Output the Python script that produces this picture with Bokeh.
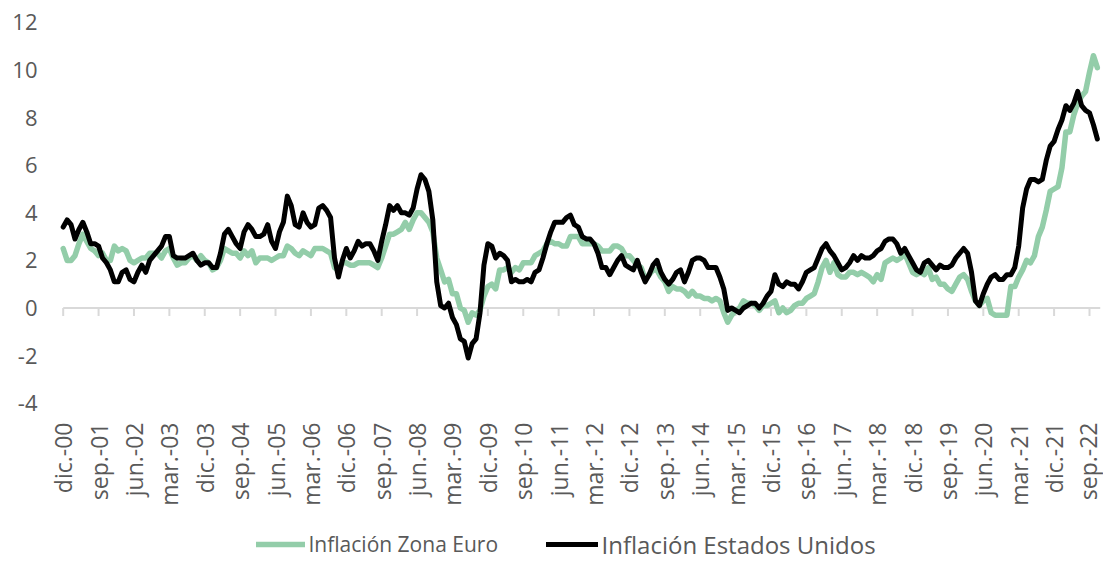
import math
from bokeh.plotting import figure
from bokeh.layouts import column
from bokeh.models import Range1d, FixedTicker, Legend, LegendItem, PrintfTickFormatter
from bokeh.embed import file_html
from bokeh.resources import INLINE

# Monthly year-on-year inflation, Dec 2000 .. Nov 2022 (%)
us_inflation = [
    3.4,
    3.7, 3.5, 2.9, 3.3, 3.6, 3.2, 2.7, 2.7, 2.6, 2.1, 1.9, 1.6,
    1.1, 1.1, 1.5, 1.6, 1.2, 1.1, 1.5, 1.8, 1.5, 2.0, 2.2, 2.4,
    2.6, 3.0, 3.0, 2.2, 2.1, 2.1, 2.1, 2.2, 2.3, 2.0, 1.8, 1.9,
    1.9, 1.7, 1.7, 2.3, 3.1, 3.3, 3.0, 2.7, 2.5, 3.2, 3.5, 3.3,
    3.0, 3.0, 3.1, 3.5, 2.8, 2.5, 3.2, 3.6, 4.7, 4.3, 3.5, 3.4,
    4.0, 3.6, 3.4, 3.5, 4.2, 4.3, 4.1, 3.8, 2.1, 1.3, 2.0, 2.5,
    2.1, 2.4, 2.8, 2.6, 2.7, 2.7, 2.4, 2.0, 2.8, 3.5, 4.3, 4.1,
    4.3, 4.0, 4.0, 3.9, 4.2, 5.0, 5.6, 5.4, 4.9, 3.7, 1.1, 0.1,
    0.0, 0.2, -0.4, -0.7, -1.3, -1.4, -2.1, -1.5, -1.3, -0.2, 1.8, 2.7,
    2.6, 2.1, 2.3, 2.2, 2.0, 1.1, 1.2, 1.1, 1.1, 1.2, 1.1, 1.5,
    1.6, 2.1, 2.7, 3.2, 3.6, 3.6, 3.6, 3.8, 3.9, 3.5, 3.4, 3.0,
    2.9, 2.9, 2.7, 2.3, 1.7, 1.7, 1.4, 1.7, 2.0, 2.2, 1.8, 1.7,
    1.6, 2.0, 1.5, 1.1, 1.4, 1.8, 2.0, 1.5, 1.2, 1.0, 1.2, 1.5,
    1.6, 1.1, 1.5, 2.0, 2.1, 2.1, 2.0, 1.7, 1.7, 1.7, 1.3, 0.8,
    -0.1, 0.0, -0.1, -0.2, 0.0, 0.1, 0.2, 0.2, 0.0, 0.2, 0.5, 0.7,
    1.4, 1.0, 0.9, 1.1, 1.0, 1.0, 0.8, 1.1, 1.5, 1.6, 1.7, 2.1,
    2.5, 2.7, 2.4, 2.2, 1.9, 1.6, 1.7, 1.9, 2.2, 2.0, 2.2, 2.1,
    2.1, 2.2, 2.4, 2.5, 2.8, 2.9, 2.9, 2.7, 2.3, 2.5, 2.2, 1.9,
    1.6, 1.5, 1.9, 2.0, 1.8, 1.6, 1.8, 1.7, 1.7, 1.8, 2.1, 2.3,
    2.5, 2.3, 1.5, 0.3, 0.1, 0.6, 1.0, 1.3, 1.4, 1.2, 1.2, 1.4,
    1.4, 1.7, 2.6, 4.2, 5.0, 5.4, 5.4, 5.3, 5.4, 6.2, 6.8, 7.0,
    7.5, 7.9, 8.5, 8.3, 8.6, 9.1, 8.5, 8.3, 8.2, 7.7, 7.1,
]

eu_inflation = [
    2.5,
    2.0, 2.0, 2.2, 2.7, 3.1, 2.8, 2.5, 2.4, 2.2, 2.3, 2.0, 2.0,
    2.6, 2.4, 2.5, 2.4, 2.0, 1.9, 2.0, 2.1, 2.1, 2.3, 2.3, 2.3,
    2.1, 2.4, 2.5, 2.1, 1.8, 1.9, 1.9, 2.1, 2.2, 2.0, 2.2, 2.0,
    1.9, 1.6, 1.7, 2.0, 2.5, 2.4, 2.3, 2.3, 2.1, 2.4, 2.2, 2.4,
    1.9, 2.1, 2.1, 2.1, 2.0, 2.1, 2.2, 2.2, 2.6, 2.5, 2.3, 2.2,
    2.4, 2.3, 2.2, 2.5, 2.5, 2.5, 2.4, 2.3, 1.7, 1.6, 1.9, 1.9,
    1.8, 1.8, 1.9, 1.9, 1.9, 1.9, 1.8, 1.7, 2.1, 2.6, 3.1, 3.1,
    3.2, 3.3, 3.6, 3.3, 3.7, 4.0, 4.0, 3.8, 3.6, 3.2, 2.1, 1.6,
    1.1, 1.2, 0.6, 0.6, 0.0, -0.1, -0.6, -0.2, -0.3, -0.1, 0.5, 0.9,
    1.0, 0.8, 1.6, 1.6, 1.7, 1.5, 1.7, 1.6, 1.9, 1.9, 1.9, 2.2,
    2.3, 2.4, 2.7, 2.8, 2.7, 2.7, 2.6, 2.6, 3.0, 3.0, 3.0, 2.7,
    2.7, 2.7, 2.7, 2.6, 2.4, 2.4, 2.4, 2.6, 2.6, 2.5, 2.2, 2.2,
    2.0, 1.8, 1.7, 1.2, 1.4, 1.6, 1.6, 1.3, 1.1, 0.7, 0.9, 0.8,
    0.8, 0.7, 0.5, 0.7, 0.5, 0.5, 0.4, 0.4, 0.3, 0.4, 0.3, -0.2,
    -0.6, -0.3, -0.1, 0.0, 0.3, 0.2, 0.2, 0.1, -0.1, 0.1, 0.1, 0.2,
    0.3, -0.2, 0.0, -0.2, -0.1, 0.1, 0.2, 0.2, 0.4, 0.5, 0.6, 1.1,
    1.7, 2.0, 1.5, 1.9, 1.4, 1.3, 1.3, 1.5, 1.5, 1.4, 1.5, 1.4,
    1.3, 1.1, 1.4, 1.2, 1.9, 2.0, 2.1, 2.0, 2.1, 2.3, 1.9, 1.5,
    1.4, 1.5, 1.4, 1.7, 1.2, 1.3, 1.0, 1.0, 0.8, 0.7, 1.0, 1.3,
    1.4, 1.2, 0.7, 0.3, 0.1, 0.3, 0.4, -0.2, -0.3, -0.3, -0.3, -0.3,
    0.9, 0.9, 1.3, 1.6, 2.0, 1.9, 2.2, 3.0, 3.4, 4.1, 4.9, 5.0,
    5.1, 5.9, 7.4, 7.4, 8.1, 8.6, 8.9, 9.1, 9.9, 10.6, 10.1,
]

tick_labels = [
    "dic.-00", "sep.-01", "jun.-02", "mar.-03", "dic.-03", "sep.-04",
    "jun.-05", "mar.-06", "dic.-06", "sep.-07", "jun.-08", "mar.-09",
    "dic.-09", "sep.-10", "jun.-11", "mar.-12", "dic.-12", "sep.-13",
    "jun.-14", "mar.-15", "dic.-15", "sep.-16", "jun.-17", "mar.-18",
    "dic.-18", "sep.-19", "jun.-20", "mar.-21", "dic.-21", "sep.-22",
]
tick_step = 9  # months between labels
y_ticks = [-4, -2, 0, 2, 4, 6, 8, 10, 12]

label_eu = "Inflación Zona Euro"
label_us = "Inflación Estados Unidos"

GREEN = "#93CDA9"
GREY_TEXT = "#595959"
AXIS_GREY = "#D9D9D9"
FONT = "Open Sans"
EU_W = 5.5
US_W = 5

n = len(us_inflation)
months = list(range(n))
tick_pos = [i * tick_step for i in range(len(tick_labels))]

MAIN_H = 513
LEG_H = 561 - MAIN_H

p = figure(
    width=1103, height=MAIN_H,
    output_backend="svg", toolbar_location=None,
    x_range=Range1d(-4.5, 263.8), y_range=Range1d(-4.307, 12.5),
    min_border_left=45, min_border_right=3, min_border_top=10,
    min_border_bottom=MAIN_H - 410,
)
p.outline_line_color = None
p.grid.visible = False
p.background_fill_color = "white"
p.border_fill_color = "white"

# y axis
yax = p.yaxis[0]
yax.ticker = FixedTicker(ticks=y_ticks)
yax.formatter = PrintfTickFormatter(format="%d")
yax.axis_line_color = None
yax.major_tick_line_color = None
yax.minor_tick_line_color = None
yax.major_tick_out = 0
yax.major_tick_in = 0
yax.major_label_standoff = 8
yax.major_label_text_font = FONT
yax.major_label_text_font_size = "22px"
yax.major_label_text_color = GREY_TEXT

# x axis (labels only, at bottom)
xax = p.xaxis[0]
xax.ticker = FixedTicker(ticks=tick_pos)
xax.major_label_overrides = {tp: lab for tp, lab in zip(tick_pos, tick_labels)}
xax.major_label_orientation = math.pi / 2
xax.axis_line_color = None
xax.major_tick_line_color = None
xax.minor_tick_line_color = None
xax.major_tick_out = 0
xax.major_tick_in = 0
xax.major_label_standoff = 12
xax.major_label_text_font = FONT
xax.major_label_text_font_size = "23px"
xax.major_label_text_color = GREY_TEXT

# zero axis line with tick marks
p.segment(x0=[0], y0=[0], x1=[n - 1 + 0.8], y1=[0], line_color=AXIS_GREY, line_width=2)
p.segment(x0=tick_pos, y0=[0] * len(tick_pos), x1=tick_pos, y1=[-0.34] * len(tick_pos),
          line_color=AXIS_GREY, line_width=2)

p.line(months, eu_inflation, line_color=GREEN, line_width=EU_W,
       line_join="round", line_cap="round")
p.line(months, us_inflation, line_color="black", line_width=US_W,
       line_join="round", line_cap="round")

# legend strip (separate figure below the chart; its frame is aligned with the chart's)
pl = figure(
    width=1103, height=LEG_H, output_backend="svg", toolbar_location=None,
    x_range=Range1d(0, 1), y_range=Range1d(-1000, -999),
    min_border_left=45, min_border_right=3, min_border_top=0, min_border_bottom=0,
    x_axis_location=None, y_axis_location=None,
)
pl.outline_line_color = None
pl.grid.visible = False
pl.background_fill_color = "white"
pl.border_fill_color = "white"
# proxies carrying the series' style (their data lie outside this strip's view)
s_eu = pl.line(months, eu_inflation, line_color=GREEN, line_width=EU_W, line_cap="round")
s_us = pl.line(months, us_inflation, line_color="black", line_width=US_W, line_cap="round")

common = dict(orientation="horizontal", padding=0, margin=0, spacing=0,
              border_line_color=None, background_fill_alpha=0,
              glyph_height=20, label_height=34,
              label_text_font=FONT, label_text_color=GREY_TEXT, label_standoff=4)

leg_eu = Legend(items=[LegendItem(label=label_eu, renderers=[s_eu])],
                location=(210.5, 0), glyph_width=49,
                label_text_font_size="21px", **common)
leg_us = Legend(items=[LegendItem(label=label_us, renderers=[s_us])],
                location=(500.5, 0), glyph_width=52,
                label_text_font_size="24px", **common)
pl.add_layout(leg_eu, "center")
pl.add_layout(leg_us, "center")

layout = column(p, pl, spacing=0)
open("out.html", "w").write(file_html(layout, INLINE))
